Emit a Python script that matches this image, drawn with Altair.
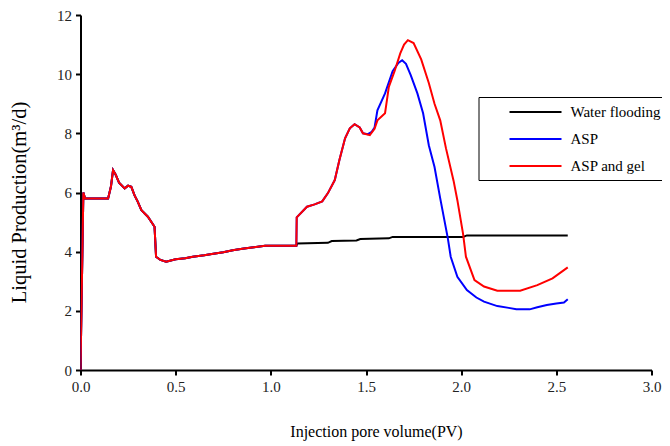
import altair as alt
import pandas as pd

# Shared early part (all three curves coincide up to ~1.13 PV)
common_x = [0.0, 0.015, 0.024, 0.06, 0.10, 0.145, 0.16, 0.171, 0.185, 0.2025, 0.232, 0.25, 0.267,
            0.284, 0.30, 0.32, 0.354, 0.389, 0.397, 0.42, 0.45, 0.50, 0.55, 0.59, 0.65, 0.69,
            0.75, 0.80, 0.85, 0.90, 0.97, 1.05, 1.134]
common_y = [0.0, 6.0, 5.8, 5.8, 5.8, 5.8, 6.2, 6.76, 6.6, 6.33, 6.14, 6.23, 6.19,
            5.9, 5.7, 5.4, 5.18, 4.84, 3.83, 3.72, 3.66, 3.74, 3.78, 3.83, 3.88, 3.92,
            3.98, 4.05, 4.1, 4.14, 4.2, 4.2, 4.2]

water_x_tail = [1.14, 1.30, 1.32, 1.45, 1.47, 1.62, 1.64, 2.01, 2.03, 2.56]
water_y_tail = [4.28, 4.3, 4.36, 4.38, 4.43, 4.45, 4.5, 4.5, 4.55, 4.55]

asp_x_tail = [1.136, 1.19, 1.23, 1.27, 1.30, 1.336, 1.36, 1.39, 1.415, 1.44, 1.467, 1.484, 1.51,
              1.53, 1.545, 1.56, 1.60, 1.64, 1.67, 1.69, 1.71, 1.735, 1.77, 1.80, 1.83, 1.86,
              1.89, 1.93, 1.945, 1.98, 2.03, 2.08, 2.12, 2.19, 2.25, 2.29, 2.36, 2.40, 2.45,
              2.50, 2.54, 2.56]
asp_y_tail = [5.16, 5.52, 5.6, 5.7, 5.98, 6.42, 7.09, 7.83, 8.17, 8.31, 8.2, 8.0, 7.97,
              8.05, 8.2, 8.78, 9.35, 10.1, 10.38, 10.47, 10.35, 9.97, 9.35, 8.68, 7.6, 6.86,
              5.8, 4.45, 3.83, 3.15, 2.7, 2.45, 2.31, 2.16, 2.1, 2.05, 2.05, 2.12, 2.2,
              2.25, 2.28, 2.39]

gel_x_tail = [1.136, 1.19, 1.23, 1.27, 1.30, 1.336, 1.36, 1.39, 1.415, 1.44, 1.467, 1.484, 1.52,
              1.545, 1.56, 1.60, 1.62, 1.65, 1.68, 1.70, 1.72, 1.75, 1.79, 1.83, 1.86, 1.89,
              1.92, 1.96, 1.98, 2.01, 2.025, 2.07, 2.12, 2.19, 2.31, 2.40, 2.48, 2.56]
gel_y_tail = [5.16, 5.52, 5.6, 5.7, 5.98, 6.42, 7.09, 7.83, 8.17, 8.31, 8.2, 8.0, 7.94,
              8.15, 8.44, 8.68, 9.57, 10.1, 10.7, 11.0, 11.15, 11.05, 10.5, 9.7, 9.0, 8.44,
              7.5, 6.4, 5.74, 4.6, 3.83, 3.04, 2.82, 2.68, 2.68, 2.87, 3.1, 3.47]

series = ["Water flooding", "ASP", "ASP and gel"]
colors = ["#000000", "#0000ff", "#ff0000"]

rows = []
for name, xt, yt in [(series[0], water_x_tail, water_y_tail),
                     (series[1], asp_x_tail, asp_y_tail),
                     (series[2], gel_x_tail, gel_y_tail)]:
    xs = common_x + xt
    ys = common_y + yt
    for i, (a, b) in enumerate(zip(xs, ys)):
        rows.append({"pv": a, "q": b, "series": name, "order": i})
df = pd.DataFrame(rows)

font = "Liberation Serif"

chart = alt.Chart(df).mark_line(strokeWidth=2, clip=True).encode(
    x=alt.X("pv:Q", scale=alt.Scale(domain=[0, 3]),
            axis=alt.Axis(title="Injection pore volume(PV)", values=[0, 0.5, 1, 1.5, 2, 2.5, 3],
                          format=".1f", grid=False, titlePadding=29, labelFlush=False,
                          titleX=295.5)),
    y=alt.Y("q:Q", scale=alt.Scale(domain=[0, 12]),
            axis=alt.Axis(title="Liquid Production(m³/d)", values=[0, 2, 4, 6, 8, 10, 12],
                          grid=False, titlePadding=27, labelFlush=False, titleY=187)),
    color=alt.Color("series:N", scale=alt.Scale(domain=series, range=colors),
                    sort=series,
                    legend=alt.Legend(title=None, orient="none", legendX=398, legendY=82,
                                      symbolType="M-3.25,0H3.25", symbolSize=256,
                                      symbolStrokeWidth=2,
                                      symbolOffset=42, labelOffset=26, padding=6,
                                      rowPadding=10, labelFontSize=15, labelFont=font,
                                      labelColor="#000000",
                                      strokeColor="#000000", fillColor="#ffffff")),
    order=alt.Order("order:Q"),
    detail="series:N",
).properties(
    width=571, height=355,
    autosize=alt.AutoSizeParams(type="none"),
    padding={"left": 72.5, "top": 7, "right": 10.5, "bottom": 76},
).configure_view(stroke=None).configure_axis(
    domainColor="#000000", domainWidth=2, tickColor="#000000", tickWidth=2, tickSize=5,
    labelFont=font, labelFontSize=15, labelColor="#222222",
    titleFont=font, titleColor="#000000", titleFontWeight="normal",
).configure_axisX(titleFontSize=16, labelPadding=4).configure_axisY(titleFontSize=20.5, labelPadding=4)

chart.save("out.html", embed_options={"renderer": "svg", "actions": False})
